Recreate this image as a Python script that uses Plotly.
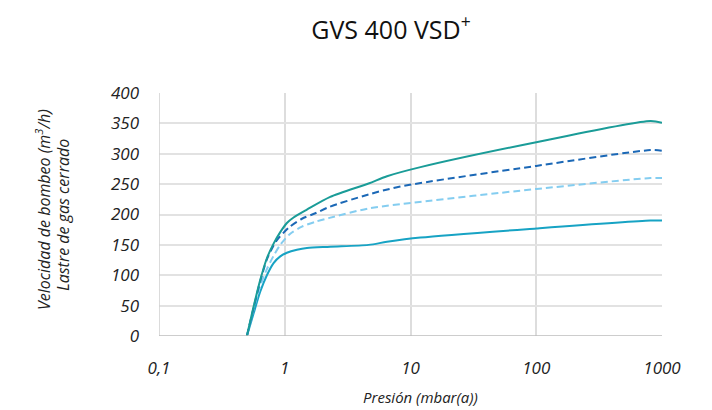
import plotly.graph_objects as go

# Pressure (mbar(a)) sample points and pumping speeds (m3/h)
x_top = [0.5, 0.565, 0.638, 0.721, 0.815, 0.921, 1.04, 1.175, 1.5, 2.3, 4.64, 6.5, 12, 100, 809, 1000]
y_top = [0, 48, 92, 128, 152, 171, 186, 195, 208, 229, 251, 263, 278, 319, 354, 351]

x_dark = [0.5, 0.565, 0.638, 0.721, 0.815, 0.867, 1.1, 1.37, 1.75, 2.23, 4.64, 8.3, 100, 809, 1000]
y_dark = [0, 46, 90, 126, 149, 158, 180, 193, 202, 212, 233, 246, 280, 306, 305]

x_light = [0.5, 0.565, 0.638, 0.721, 0.815, 0.921, 1.1, 1.37, 1.75, 2.23, 4.64, 8.3, 100, 809, 1000]
y_light = [0, 44, 82, 110, 132, 150, 168, 180, 188, 194, 210, 217, 242, 260, 260]

x_bot = [0.5, 0.565, 0.638, 0.721, 0.815, 0.921, 1.04, 1.25, 1.5, 2.3, 4.64, 6.5, 12, 100, 809, 1000]
y_bot = [0, 37, 73, 100, 120, 131, 137, 142, 145, 147, 150, 155, 162, 177, 190, 190]

x_tickvals = [0.1, 1, 10, 100, 1000]
x_ticktext = ["0,1", "1", "10", "100", "1000"]
y_tickvals = [0, 50, 100, 150, 200, 250, 300, 350, 400]

FONT = "Open Sans"
TXT = "#222222"
W, H = 704, 402  # page has an 8px body margin

fig = go.Figure()
fig.add_trace(go.Scatter(x=x_bot, y=y_bot, mode="lines",
                         line=dict(color="#17A3C4", width=2, shape="spline", smoothing=0.8)))
fig.add_trace(go.Scatter(x=x_light, y=y_light, mode="lines",
                         line=dict(color="#84CDF0", width=2, dash="7px,4px", shape="spline", smoothing=0.8)))
fig.add_trace(go.Scatter(x=x_dark, y=y_dark, mode="lines",
                         line=dict(color="#1B68B6", width=2, dash="7px,4px", shape="spline", smoothing=0.8)))
fig.add_trace(go.Scatter(x=x_top, y=y_top, mode="lines",
                         line=dict(color="#1A9C98", width=2, shape="spline", smoothing=0.8)))

fig.update_layout(
    width=W, height=H,
    margin=dict(l=151, r=50, t=85, b=74),
    paper_bgcolor="white", plot_bgcolor="white",
    showlegend=False,
    title=dict(text="GVS 400 VSD<sup>+</sup>", x=383 / W, xanchor="center",
               y=1 - 22 / H, yanchor="middle",
               font=dict(family=FONT, size=25, color="#111111")),
    xaxis=dict(type="log", range=[-1, 3], tickvals=x_tickvals,
               ticktext=["<i>%s</i>" % t for t in x_ticktext],
               showgrid=True, gridcolor="#dddddd", gridwidth=1.5,
               zeroline=False, showline=False, ticks="",
               ticklabelstandoff=20, automargin=False,
               tickfont=dict(family=FONT, size=17, color=TXT)),
    yaxis=dict(range=[0, 400], tickvals=y_tickvals,
               ticktext=["<i>%d</i>" % v for v in y_tickvals],
               showgrid=True, gridcolor="#e2e2e2", gridwidth=2,
               zeroline=False, showline=False, ticks="",
               ticklabelstandoff=19, automargin=False,
               tickfont=dict(family=FONT, size=17, color=TXT)),
    annotations=[
        dict(text="<i>Presión (mbar(a))</i>", xref="paper", yref="paper",
             x=(420 - 159) / 503, y=-61 / 243, xanchor="center", yanchor="middle", showarrow=False,
             font=dict(family=FONT, size=15, color=TXT)),
        dict(text="<i>Velocidad de bombeo (m<sup>3</sup>/h)</i>", xref="paper", yref="paper",
             x=(43 - 159) / 503, y=(336 - 210) / 243, xanchor="center", yanchor="middle",
             textangle=-90, showarrow=False, font=dict(family=FONT, size=16, color=TXT)),
        dict(text="<i>Lastre de gas cerrado</i>", xref="paper", yref="paper",
             x=(63 - 159) / 503, y=(336 - 215) / 243, xanchor="center", yanchor="middle",
             textangle=-90, showarrow=False, font=dict(family=FONT, size=16, color=TXT)),
    ],
)

# Axis frame lines (left at 0.1 and bottom at 0)
fig.add_shape(type="line", xref="x", yref="paper", x0=0.1, x1=0.1, y0=0, y1=1,
              line=dict(color="#cfcfcf", width=1.5))
fig.add_shape(type="line", xref="paper", yref="y", x0=0, x1=1, y0=0, y1=0,
              line=dict(color="#bdbdbd", width=1.5))

fig.write_html("out.html")
